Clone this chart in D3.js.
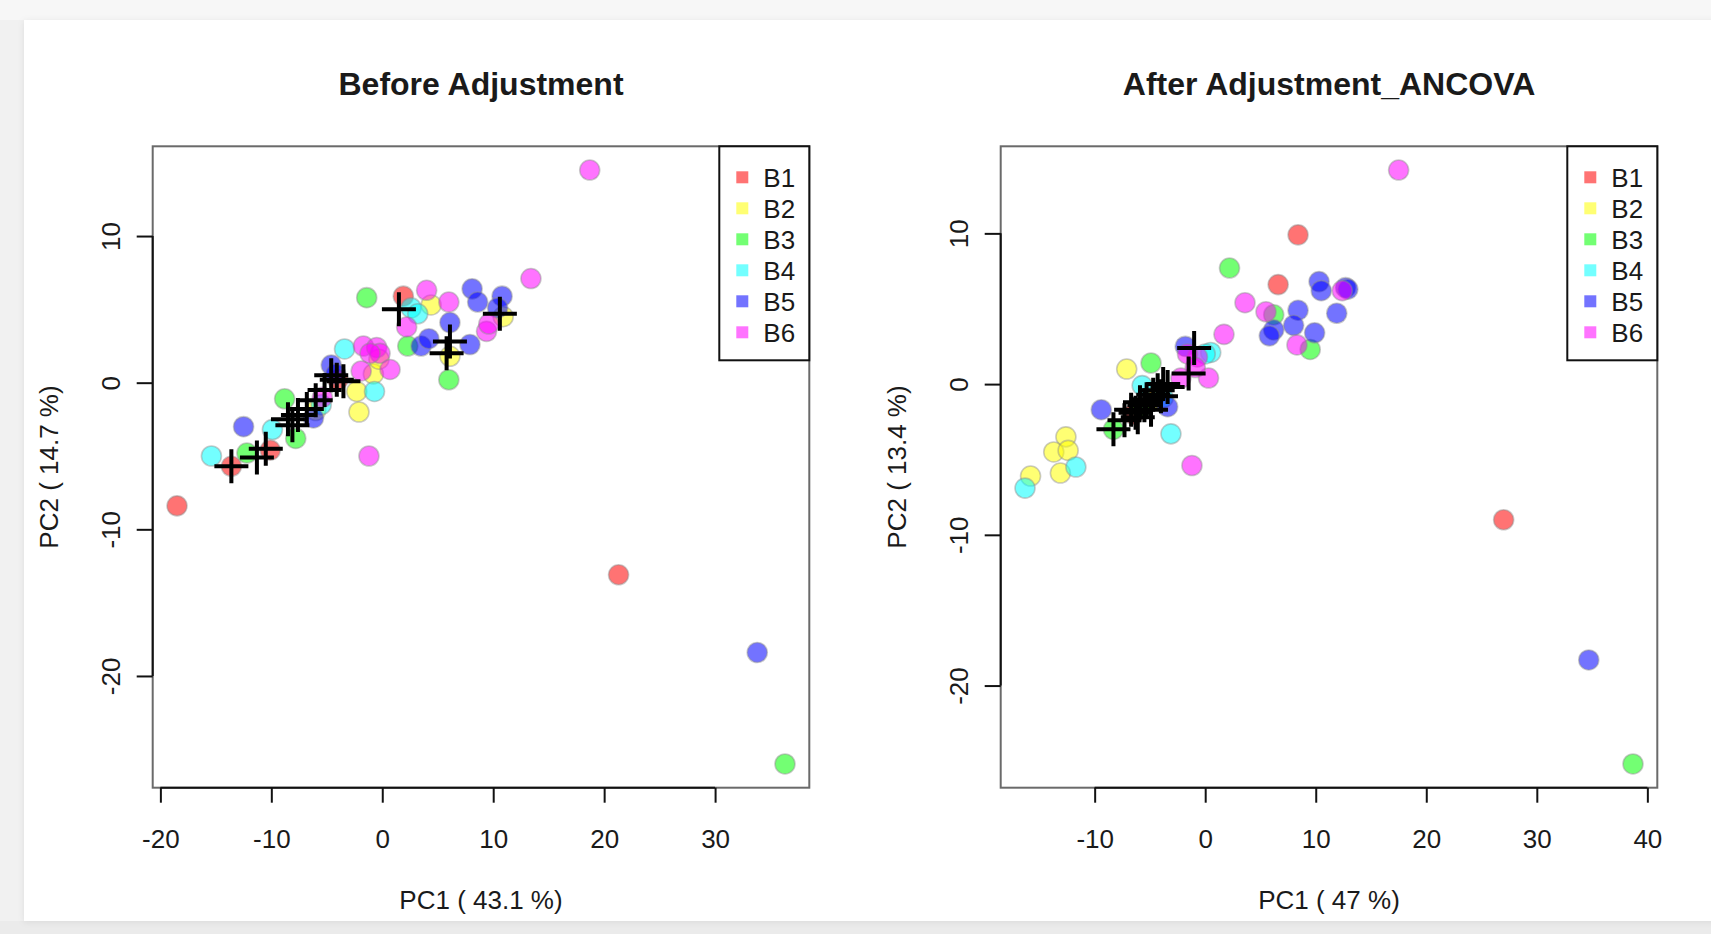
<!DOCTYPE html>
<html>
<head>
<meta charset="utf-8">
<script src="https://cdn.jsdelivr.net/npm/d3@7"></script>
<style>
  html, body { margin: 0; padding: 0; background: #f1f1f1; }
  svg { display: block; }
  text { font-family: "Liberation Sans", Arial, Helvetica, sans-serif; fill: #1a1a1a; }
</style>
</head>
<body>
<svg id="chart" width="1711" height="934"></svg>
<script>
// Batch labels and their colours (rainbow palette, drawn semi-transparent)
const batches = ["B1", "B2", "B3", "B4", "B5", "B6"];
const batchColors = ["#FF0000", "#FFFF00", "#00FF00", "#00FFFF", "#0000FF", "#FF00FF"];

// Before adjustment: PC scores per sample
const beforeX = [
  -18.5, 21.3, 1.9, -13.6, -10.1, -4.0,
  4.4, 6.1, 10.9, -0.8, -2.3, -2.1, -6.0, -0.3,
  -1.4, 2.3, 6.0, -8.8, -7.8, -12.2, 36.3,
  2.6, 3.2, -3.4, -0.7, -9.9, -15.4, -5.5,
  3.5, 4.2, 6.1, 7.9, 8.1, 8.6, 10.8, 10.4, -4.6, -12.5, -6.2, -4.2, 33.8,
  18.7, 13.4, -1.2, 4.0, 6.0, 2.2, 9.4, 9.6, -1.7, -0.5, -0.2, -1.1, 0.7, -1.9, -5.4
];
const beforeY = [
  -8.4, -13.1, 5.9, -5.7, -4.6, 0.2,
  5.3, 1.8, 4.5, 0.6, -0.6, -2.0, -1.9, 1.6,
  5.8, 2.5, 0.2, -1.1, -3.8, -4.8, -26.0,
  5.1, 4.7, 2.3, -0.6, -3.2, -5.0, -1.5,
  2.5, 3.0, 4.1, 2.6, 6.4, 5.5, 5.9, 5.1, 1.2, -3.0, -2.4, 0.6, -18.4,
  14.5, 7.1, -5.0, 6.3, 5.5, 3.8, 3.5, 4.0, 2.5, 2.4, 2.0, 2.0, 0.9, 0.8, -1.0
];
const beforeBatch = [
  "B1", "B1", "B1", "B1", "B1", "B1",
  "B2", "B2", "B2", "B2", "B2", "B2", "B2", "B2",
  "B3", "B3", "B3", "B3", "B3", "B3", "B3",
  "B4", "B4", "B4", "B4", "B4", "B4", "B4",
  "B5", "B5", "B5", "B5", "B5", "B5", "B5", "B5", "B5", "B5", "B5", "B5", "B5",
  "B6", "B6", "B6", "B6", "B6", "B6", "B6", "B6", "B6", "B6", "B6", "B6", "B6", "B6", "B6"
];
// QC samples (drawn as crosses)
const beforeQcX = [1.5, 6.1, 5.8, 10.6, -4.1, -4.6, -3.5, -5.2, -6.0, -6.8, -7.6, -8.5, -8.1, -10.5, -11.3, -13.6];
const beforeQcY = [5.0, 2.8, 2.0, 4.7, 0.2, 0.5, 0.1, -0.5, -1.2, -1.8, -2.2, -2.5, -2.9, -4.5, -5.1, -5.7];

// After adjustment (ANCOVA): PC scores per sample
const afterX = [
  8.4, 6.6, 27.0, -4.3, -6.5,
  -7.1, -12.6, -13.7, -12.4, -13.1, -15.8, -4.8,
  2.2, 6.2, 9.5, -4.9, -8.3, 38.7, -5.8,
  0.5, -5.7, -3.1, -11.7, -16.3, 0.0, -3.8,
  10.3, 10.5, 12.7, 8.4, 11.9, 8.0, 6.2, 5.8, 9.9, -1.8, -9.4, 34.7, -3.4, 12.9,
  17.5, 12.4, 3.6, 5.5, 8.3, 1.7, -0.7, 0.3, -2.2, -1.2, -1.6, -0.9
];
const afterY = [
  9.9, 6.6, -9.0, -0.6, -2.0,
  1.0, -3.5, -4.5, -4.4, -5.9, -6.1, -1.0,
  7.7, 4.6, 2.3, 1.4, -3.0, -25.2, -1.6,
  2.1, -0.1, -3.3, -5.5, -6.9, 2.0, -0.9,
  6.8, 6.2, 6.4, 4.9, 4.7, 3.9, 3.6, 3.2, 3.4, 2.5, -1.7, -18.3, -1.5, 6.3,
  14.2, 6.2, 5.4, 4.8, 2.6, 3.3, 1.8, 0.4, 0.4, -5.4, 2.0, 1.1
];
const afterBatch = [
  "B1", "B1", "B1", "B1", "B1",
  "B2", "B2", "B2", "B2", "B2", "B2", "B2",
  "B3", "B3", "B3", "B3", "B3", "B3", "B3",
  "B4", "B4", "B4", "B4", "B4", "B4", "B4",
  "B5", "B5", "B5", "B5", "B5", "B5", "B5", "B5", "B5", "B5", "B5", "B5", "B5", "B5",
  "B6", "B6", "B6", "B6", "B6", "B6", "B6", "B6", "B6", "B6", "B6", "B6"
];
const afterQcX = [-8.3, -7.3, -6.7, -6.1, -5.9, -5.3, -4.7, -4.3, -3.8, -3.4, -4.9, -4.0, -1.5, -1.0, -6.3, -5.5];
const afterQcY = [-3.0, -2.4, -1.7, -2.2, -1.2, -1.0, -0.7, -0.4, 0.0, -0.2, -1.7, -0.8, 0.7, 2.4, -1.9, -1.4];

// Axis ticks and labels
const beforeXTicks = [-20, -10, 0, 10, 20, 30];
const afterXTicks = [-10, 0, 10, 20, 30, 40];
const yTicks = [-20, -10, 0, 10];
const titles = ["Before Adjustment", "After Adjustment_ANCOVA"];
const xLabels = ["PC1 ( 43.1 %)", "PC1 ( 47 %)"];
const yLabels = ["PC2 ( 14.7 %)", "PC2 ( 13.4 %)"];

const svg = d3.select("#chart");

// page card
svg.append("rect").attr("x", 0).attr("y", 0).attr("width", 1711).attr("height", 20).attr("fill", "#f7f7f7");
svg.append("rect").attr("x", 0).attr("y", 921).attr("width", 1711).attr("height", 13).attr("fill", "#ebebeb");
const defs = svg.append("defs");
const shadow = defs.append("filter").attr("id", "cardShadow").attr("x", "-5%").attr("y", "-5%").attr("width", "110%").attr("height", "110%");
shadow.append("feDropShadow").attr("dx", 0).attr("dy", 1).attr("stdDeviation", 3).attr("flood-color", "#000").attr("flood-opacity", 0.08);
svg.append("rect").attr("x", 24).attr("y", 20).attr("width", 1700).attr("height", 901)
  .attr("fill", "#ffffff").attr("filter", "url(#cardShadow)");

const colorOf = d3.scaleOrdinal().domain(batches).range(batchColors);
// plain hyphen-minus tick labels
const tickLabel = d => String(d);

// R-style axis range: data extent widened by 4% on each side
function paddedExtent(values) {
  const [lo, hi] = d3.extent(values);
  const pad = (hi - lo) * 0.04;
  return [lo - pad, hi + pad];
}

const panels = [
  { left: 152.7, right: 809.3, xs: beforeX, ys: beforeY, bs: beforeBatch, qx: beforeQcX, qy: beforeQcY, xt: beforeXTicks },
  { left: 1000.7, right: 1657.3, xs: afterX, ys: afterY, bs: afterBatch, qx: afterQcX, qy: afterQcY, xt: afterXTicks }
];
const plotTop = 146.3, plotBottom = 787.7;
const fontSize = 26;

panels.forEach((p, i) => {
  const x = d3.scaleLinear().domain(paddedExtent(p.xs)).range([p.left, p.right]);
  const y = d3.scaleLinear().domain(paddedExtent(p.ys)).range([plotBottom, plotTop]);
  const g = svg.append("g");

  // plot frame
  g.append("rect").attr("x", p.left).attr("y", plotTop)
    .attr("width", p.right - p.left).attr("height", plotBottom - plotTop)
    .attr("fill", "none").attr("stroke", "#6a6a6a").attr("stroke-width", 2);

  // sample points
  const pts = p.xs.map((v, k) => ({ x: v, y: p.ys[k], b: p.bs[k] }));
  g.append("g").selectAll("circle").data(pts).join("circle")
    .attr("cx", d => x(d.x)).attr("cy", d => y(d.y)).attr("r", 10)
    .attr("fill", d => colorOf(d.b)).attr("fill-opacity", 0.55)
    .attr("stroke", "#8c8c8c").attr("stroke-opacity", 0.45).attr("stroke-width", 1.6);

  // QC crosses
  const qc = p.qx.map((v, k) => ({ x: v, y: p.qy[k] }));
  const arm = 17;
  g.append("g").selectAll("path").data(qc).join("path")
    .attr("d", d => {
      const cx = x(d.x), cy = y(d.y);
      return `M${cx - arm},${cy}H${cx + arm}M${cx},${cy - arm}V${cy + arm}`;
    })
    .attr("stroke", "#000").attr("stroke-width", 4).attr("fill", "none");

  // x axis
  const xAxis = g.append("g").attr("transform", `translate(0,${plotBottom})`)
    .call(d3.axisBottom(x).tickValues(p.xt).tickFormat(tickLabel).tickSize(15).tickPadding(27));
  xAxis.select(".domain").remove();
  xAxis.selectAll(".tick line").attr("stroke", "#111").attr("stroke-width", 2);
  xAxis.selectAll(".tick text").attr("font-size", fontSize).attr("fill", "#1a1a1a")
    .style("font-family", '"Liberation Sans", Arial, sans-serif');
  xAxis.append("line").attr("x1", x(p.xt[0])).attr("x2", x(p.xt[p.xt.length - 1]))
    .attr("y1", 0).attr("y2", 0).attr("stroke", "#111").attr("stroke-width", 2);

  // y axis, labels parallel to the axis
  const yAxis = g.append("g").attr("transform", `translate(${p.left},0)`)
    .call(d3.axisLeft(y).tickValues(yTicks).tickFormat(tickLabel).tickSize(16));
  yAxis.select(".domain").remove();
  yAxis.selectAll(".tick line").attr("stroke", "#111").attr("stroke-width", 2);
  yAxis.selectAll(".tick text")
    .attr("x", null).attr("dy", "0.36em")
    .attr("transform", "translate(-42,0) rotate(-90)")
    .attr("text-anchor", "middle")
    .attr("font-size", fontSize).attr("fill", "#1a1a1a")
    .style("font-family", '"Liberation Sans", Arial, sans-serif');
  yAxis.append("line").attr("x1", 0).attr("x2", 0)
    .attr("y1", y(yTicks[0])).attr("y2", y(yTicks[yTicks.length - 1]))
    .attr("stroke", "#111").attr("stroke-width", 2);

  // titles and axis labels
  const cx = (p.left + p.right) / 2;
  g.append("text").attr("x", cx).attr("y", 84).attr("dy", "0.35em")
    .attr("text-anchor", "middle").attr("font-size", 32).attr("font-weight", "bold")
    .text(titles[i]);
  g.append("text").attr("x", cx).attr("y", 900).attr("dy", "0.35em")
    .attr("text-anchor", "middle").attr("font-size", fontSize).text(xLabels[i]);
  g.append("text").attr("transform", `translate(${p.left - 104},${(plotTop + plotBottom) / 2}) rotate(-90)`)
    .attr("dy", "0.35em").attr("text-anchor", "middle").attr("font-size", fontSize).text(yLabels[i]);

  // legend, top-right corner
  const lw = 90, lh = 214;
  const lx = p.right - lw;
  const leg = g.append("g").attr("transform", `translate(${lx},${plotTop})`);
  leg.append("rect").attr("width", lw).attr("height", lh)
    .attr("fill", "#fff").attr("stroke", "#111").attr("stroke-width", 2);
  const row = d3.scalePoint().domain(batches).range([31, 186]);
  const items = leg.selectAll("g.item").data(batches).join("g").attr("class", "item")
    .attr("transform", d => `translate(0,${row(d)})`);
  items.append("rect").attr("x", 17).attr("y", -6).attr("width", 12).attr("height", 12)
    .attr("fill", d => colorOf(d)).attr("fill-opacity", 0.55);
  items.append("text").attr("x", 44).attr("dy", "0.36em").attr("font-size", 26).text(d => d);
});
</script>
</body>
</html>
